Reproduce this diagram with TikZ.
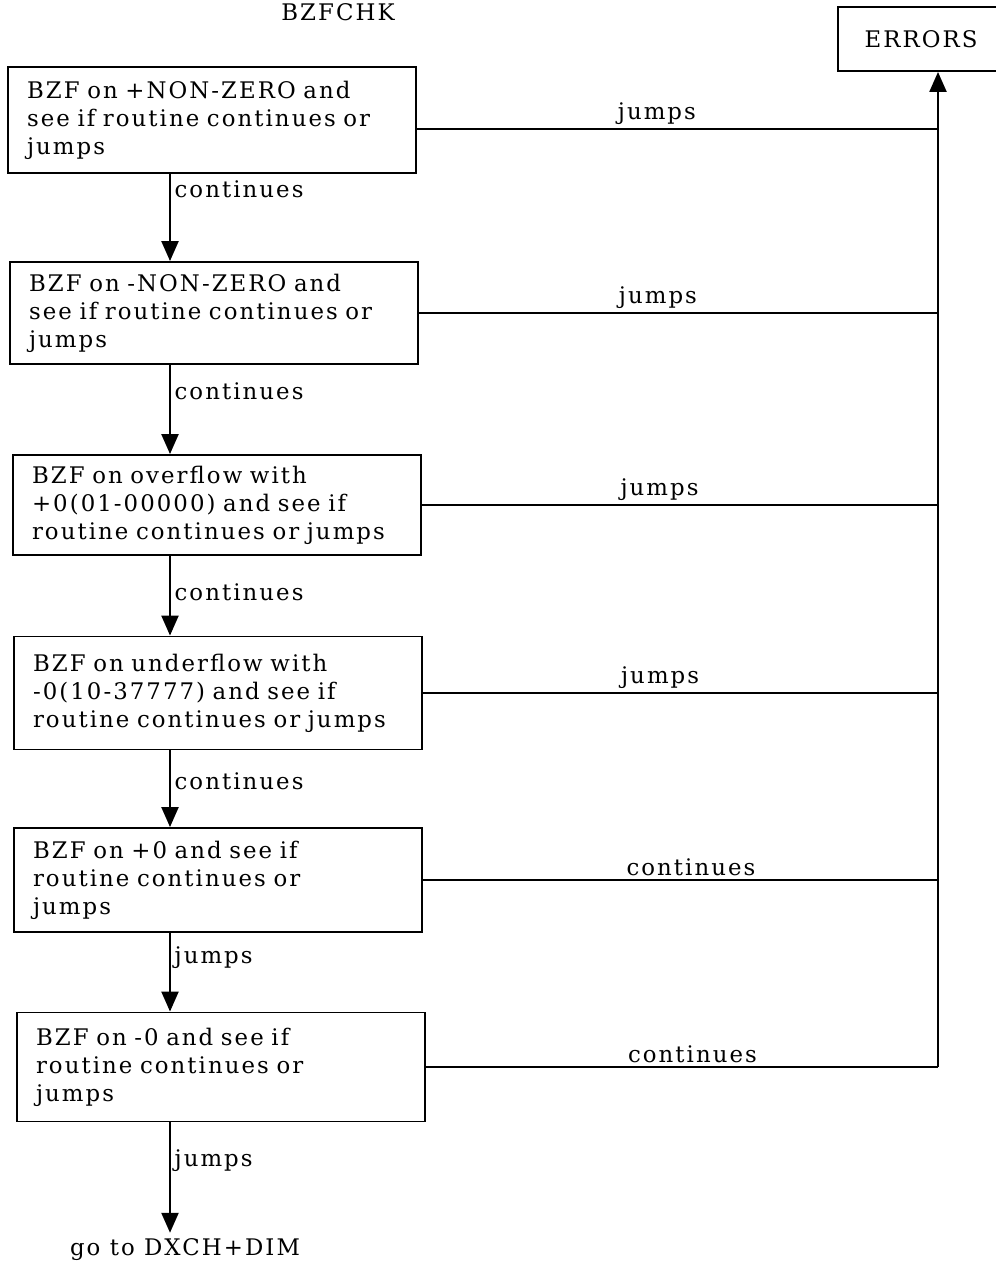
\documentclass[tikz,border=0pt]{standalone}
\usepackage{fontspec}
\setmainfont{DejaVu Serif}[LetterSpace=9]
\usetikzlibrary{arrows.meta}
\tikzset{
  box/.style={draw, line width=1.1pt, text width=7.4cm, inner xsep=0.39cm,
    align=left},
  wire/.style={line width=1.1pt},
  arr/.style={line width=1.3pt, -{Triangle[length=4mm,width=3.4mm]}},
  lbl/.style={inner sep=2pt}
}

\begin{document}
\begin{tikzpicture}[x=0.02cm, y=-0.02cm, font=\fontsize{13}{15.9}\selectfont]
      \useasboundingbox (0,0) rectangle (995,1272);
      \coordinate (spine) at (170,0);
      \coordinate (bus) at (938,0);

      \node (title) at (338,12) {BZFCHK};
      \node[draw, line width=1.1pt, minimum width=3.32cm, minimum height=1.28cm]
        (errors) at (921,39) {ERRORS};

      \node[box, minimum height=2.12cm] (b1) at (212,120)
        {BZF on +NON-ZERO and\\see if routine continues or\\jumps};
      \node[box, minimum height=2.04cm] (b2) at (214,313)
        {BZF on -NON-ZERO and\\see if routine continues or\\jumps};
      \node[box, minimum height=2.0cm] (b3) at (217,505)
        {BZF on overflow with\\+0(01-00000) and see if\\routine continues or jumps};
      \node[box, minimum height=2.26cm] (b4) at (218,693)
        {BZF on underflow with\\-0(10-37777) and see if\\routine continues or jumps};
      \node[box, minimum height=2.08cm] (b5) at (218,880)
        {BZF on +0 and see if\\routine continues or\\jumps};
      \node[box, minimum height=2.18cm] (b6) at (221,1067)
        {BZF on -0 and see if\\routine continues or\\jumps};
      \node (goto) at (185,1250) {go to DXCH+DIM};

      \draw[arr] (b1.south -| spine) -- (b2.north -| spine)
        node[lbl, anchor=west, pos=0.17] {continues};
      \draw[arr] (b2.south -| spine) -- (b3.north -| spine)
        node[lbl, anchor=west, pos=0.29] {continues};
      \draw[arr] (b3.south -| spine) -- (b4.north -| spine)
        node[lbl, anchor=west, pos=0.46] {continues};
      \draw[arr] (b4.south -| spine) -- (b5.north -| spine)
        node[lbl, anchor=west, pos=0.4] {continues};
      \draw[arr] (b5.south -| spine) -- (b6.north -| spine)
        node[lbl, anchor=west, pos=0.31] {jumps};
      \draw[arr] (b6.south -| spine) -- (goto.north -| spine)
        node[lbl, anchor=west, pos=0.35] {jumps};

      \draw[wire] ([yshift=-0.18cm]b1.east) -- ([yshift=-0.18cm]b1.east -| bus)
        node[lbl, above, pos=0.46] {jumps};
      \draw[wire] (b2.east) -- (b2.east -| bus) node[lbl, above, pos=0.46] {jumps};
      \draw[wire] (b3.east) -- (b3.east -| bus) node[lbl, above, pos=0.46] {jumps};
      \draw[wire] (b4.east) -- (b4.east -| bus) node[lbl, above, pos=0.46] {jumps};
      \draw[wire] (b5.east) -- (b5.east -| bus) node[lbl, above, pos=0.52] {continues};
      \draw[wire] (b6.east) -- (b6.east -| bus) node[lbl, above, pos=0.52] {continues};
      \draw[arr] (b6.east -| bus) -- (errors.south -| bus);
\end{tikzpicture}
\end{document}
